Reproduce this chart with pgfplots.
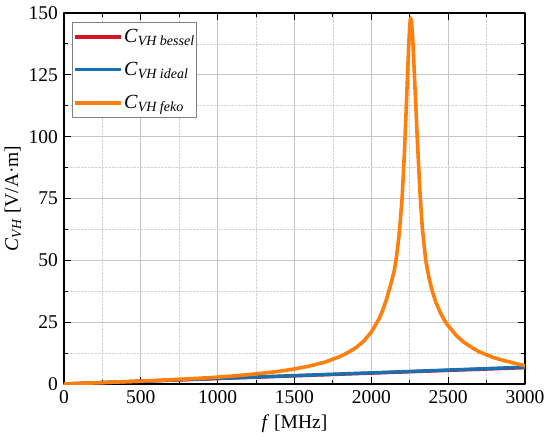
\documentclass[border=0pt]{standalone}
\usepackage{pgfplots}
\pgfplotsset{compat=1.18}
\usepackage{fontspec}
\setmainfont{Liberation Serif}
\definecolor{cred}{RGB}{212,22,32}
\definecolor{cblue}{RGB}{26,111,176}
\definecolor{corange}{RGB}{255,127,14}
\begin{document}
\fontsize{18}{21}\selectfont
\begin{tikzpicture}
\begin{axis}[
  name=ax,
  scale only axis,
  width=461pt, height=371pt,
  xmin=0, xmax=3000, ymin=0, ymax=150,
  xtick={0,500,...,3000}, ytick={0,25,...,150},
  minor x tick num=1, minor y tick num=1,
  major tick length=7pt, minor tick length=4pt,
  tick style={black, line width=1pt},
  axis line style={black, line width=1.3pt},
  grid=both,
  major grid style={gray!45, line width=0.7pt},
  minor grid style={gray!35, densely dotted, line width=0.7pt},
  /pgf/number format/assume math mode=true,
  /pgf/number format/1000 sep={},
  ticklabel style={font=\fontsize{19.5}{23}\selectfont},
  label style={font=\fontsize{19.5}{23}\selectfont},
  xlabel={\textit{f} [MHz]},
  ylabel={\textit{C}\textsubscript{\textit{VH}} [V/A·m]},
  xlabel style={yshift=1pt},
  ylabel style={yshift=-5pt},
  legend style={at={(0.018,0.977)}, anchor=north west, draw=gray, line width=0.7pt,
    font=\fontsize{20}{23}\selectfont, row sep=13pt, inner xsep=0.5pt, inner ysep=5pt,
    nodes={inner xsep=1.5pt}},
  legend cell align=left,
  legend image code/.code={\draw[#1] (0pt,0pt) -- (46pt,0pt);},
  line join=round,
]
\addplot[cred, line width=3.4pt] coordinates {
(0,0) (500,1.10) (1000,2.20) (1500,3.30) (2000,4.40) (2500,5.50) (3000,6.60)};
\addlegendentry{\textit{C}\textsubscript{\textit{VH bessel}}}
\addplot[cblue, line width=3.4pt] coordinates {
(0,0) (500,1.13) (1000,2.26) (1500,3.39) (2000,4.52) (2500,5.65) (3000,6.80)};
\addlegendentry{\textit{C}\textsubscript{\textit{VH ideal}}}
\addplot[corange, line width=3.6pt] coordinates {
(0,0) (100,0.23) (200,0.45) (300,0.69) (400,0.93) (500,1.18) (600,1.45)
(700,1.74) (800,2.05) (900,2.40) (1000,2.78) (1100,3.25) (1200,3.79)
(1300,4.41) (1400,5.15) (1500,6.09) (1600,7.29) (1700,8.89) (1800,11.2)
(1850,12.8) (1900,14.7) (1950,17.3) (2000,21.0) (2050,26.3) (2075,30)
(2100,34.5) (2125,40) (2150,46) (2165,52) (2180,60) (2190,67) (2201,76)
(2215,93) (2230,116) (2240,132) (2245,139) (2250,145) (2255,148)
(2260,147) (2265,143.5) (2270,139) (2285,118.5) (2300,98) (2317,77)
(2332,63) (2354,50) (2375,43) (2397,37.5) (2420,33) (2450,28.7)
(2480,25.3) (2500,23.6) (2550,19.8) (2600,17.0) (2650,14.9) (2700,13.1)
(2750,11.8) (2800,10.6) (2850,9.7) (2900,8.9) (2950,8.1) (3000,7.4)};
\addlegendentry{\textit{C}\textsubscript{\textit{VH feko}}}
\end{axis}
\pgfresetboundingbox
\path ([shift={(-64pt,-56pt)}]ax.south west) rectangle ([shift={(25pt,13pt)}]ax.north east);
\end{tikzpicture}
\end{document}
